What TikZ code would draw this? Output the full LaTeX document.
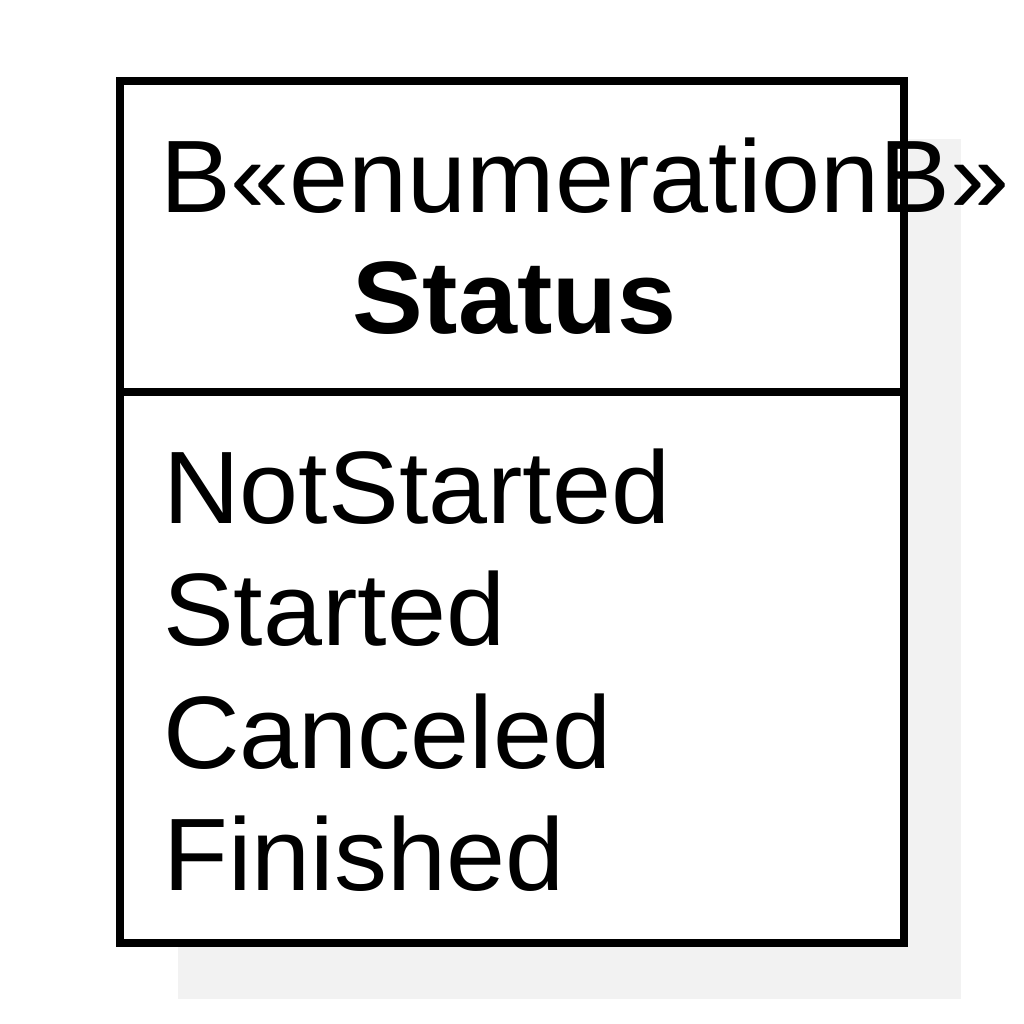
\documentclass[tikz,border=0pt]{standalone}
\usepackage{fontspec}
\setmainfont[FakeStretch=1.03]{Liberation Sans}
\begin{document}
\begin{tikzpicture}[x=1pt,y=-1pt,
  classbox/.style={draw=black,line width=8pt,fill=white},
  shadowbox/.style={fill=black!5,draw=none},
  label/.style={anchor=base west,inner sep=0pt,font=\fontsize{103}{122}\selectfont}]
\useasboundingbox (0,0) rectangle (1024,1024);
% drop shadow
\fill[shadowbox] (178,139) rectangle (961,999);
% class frame and compartment divider
\draw[classbox] (120,81.5) rectangle (904,942.5);
\draw[line width=8pt] (120,392) -- (904,392);
% header
\node[label] (stereo) at (160,213) {B«enumerationB»};
\node[label,font=\fontsize{103}{122}\selectfont\bfseries] (name) at (352,333) {Status};
% literals
\node[label] (lit1) at (163,523) {NotStarted};
\node[label] (lit2) at (163,645) {Started};
\node[label] (lit3) at (163,768) {Canceled};
\node[label] (lit4) at (163,890) {Finished};
\end{tikzpicture}
\end{document}
